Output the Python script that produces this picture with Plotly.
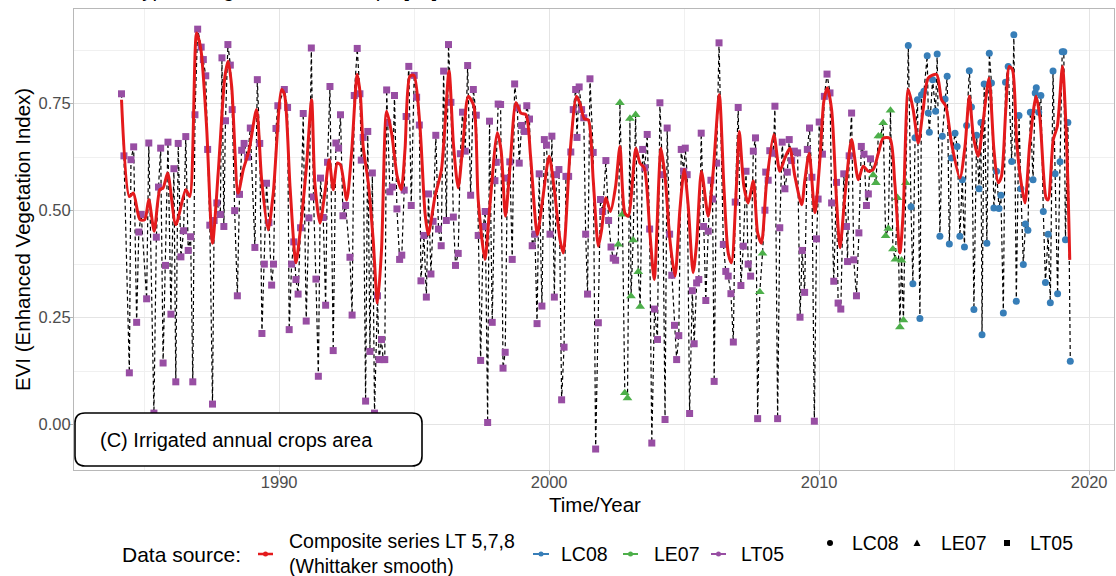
import plotly.graph_objects as go

# ---------------------------------------------------------------------------
# EVI observations per Landsat sensor (decimal year, EVI)
# ---------------------------------------------------------------------------
lt05_year = [
    1984.16, 1984.25, 1984.45, 1984.51, 1984.61, 1984.72, 1984.80, 1984.89, 1985.09, 1985.17,
    1985.36, 1985.45, 1985.53, 1985.61, 1985.70, 1985.79, 1985.88, 1985.99, 1986.10, 1986.17,
    1986.26, 1986.36, 1986.46, 1986.54, 1986.63, 1986.72, 1986.80, 1986.88, 1986.98, 1987.11,
    1987.19, 1987.28, 1987.35, 1987.43, 1987.53, 1987.59, 1987.69, 1987.82, 1987.88, 1987.95,
    1988.01, 1988.10, 1988.19, 1988.26, 1988.35, 1988.45, 1988.53, 1988.61, 1988.70, 1988.83,
    1988.93, 1989.10, 1989.19, 1989.28, 1989.36, 1989.45, 1989.53, 1989.62, 1989.72, 1989.79,
    1989.88, 1989.95, 1990.19, 1990.31, 1990.37, 1990.46, 1990.54, 1990.62, 1990.70, 1990.79,
    1990.89, 1991.00, 1991.10, 1991.19, 1991.27, 1991.36, 1991.45, 1991.53, 1991.63, 1991.72,
    1991.79, 1991.88, 1992.00, 1992.10, 1992.20, 1992.27, 1992.36, 1992.46, 1992.62, 1992.70,
    1992.78, 1992.89, 1992.99, 1993.04, 1993.11, 1993.20, 1993.28, 1993.36, 1993.45, 1993.53,
    1993.64, 1993.70, 1993.79, 1993.85, 1993.91, 1993.98, 1994.02, 1994.10, 1994.19, 1994.27,
    1994.36, 1994.46, 1994.54, 1994.63, 1994.70, 1994.80, 1994.89, 1995.00, 1995.09, 1995.19,
    1995.25, 1995.36, 1995.45, 1995.53, 1995.62, 1995.70, 1995.80, 1995.90, 1996.00, 1996.09,
    1996.19, 1996.27, 1996.36, 1996.45, 1996.53, 1996.63, 1996.71, 1996.79, 1996.89, 1996.98,
    1997.09, 1997.19, 1997.30, 1997.37, 1997.46, 1997.56, 1997.63, 1997.72, 1997.79, 1997.89,
    1997.99, 1998.04, 1998.11, 1998.20, 1998.29, 1998.37, 1998.45, 1998.54, 1998.63, 1998.72,
    1998.82, 1998.89, 1998.98, 1999.08, 1999.17, 1999.27, 1999.37, 1999.47, 1999.55, 1999.63,
    1999.73, 1999.82, 1999.90, 2000.03, 2000.10, 2000.19, 2000.27, 2000.36, 2000.46, 2000.55,
    2000.62, 2000.72, 2000.80, 2000.89, 2000.98, 2001.03, 2001.11, 2001.20, 2001.28, 2001.35,
    2001.42, 2001.51, 2001.63, 2001.72, 2001.82, 2001.90, 2001.98, 2002.10, 2002.20, 2002.29,
    2002.37, 2002.46, 2003.46, 2003.54, 2003.63, 2003.72, 2003.80, 2003.90, 2004.01, 2004.10,
    2004.20, 2004.29, 2004.37, 2004.46, 2004.54, 2004.64, 2004.72, 2004.80, 2004.89, 2004.98,
    2005.04, 2005.11, 2005.20, 2005.30, 2005.37, 2005.46, 2005.54, 2005.63, 2005.72, 2005.80,
    2005.89, 2005.99, 2006.05, 2006.11, 2006.20, 2006.29, 2006.45, 2006.54, 2006.63, 2006.73,
    2006.82, 2006.89, 2007.00, 2007.10, 2007.19, 2007.29, 2007.37, 2007.46, 2007.56, 2007.64,
    2007.72, 2007.99, 2008.02, 2008.11, 2008.17, 2008.30, 2008.36, 2008.46, 2008.54, 2008.63,
    2008.73, 2008.82, 2008.89, 2008.98, 2009.08, 2009.20, 2009.29, 2009.37, 2009.46, 2009.56,
    2009.64, 2009.73, 2009.82, 2009.90, 2009.96, 2010.00, 2010.12, 2010.19, 2010.29, 2010.40,
    2010.46, 2010.54, 2010.64, 2010.70, 2010.80, 2010.91, 2011.01, 2011.05, 2011.11, 2011.20,
    2011.28, 2011.38, 2011.47, 2011.56, 2011.66, 2011.75, 2011.82, 2011.90,
]
lt05_evi = [
    0.773, 0.628, 0.121, 0.619, 0.649, 0.239, 0.450, 0.491, 0.294, 0.658,
    0.027, 0.438, 0.555, 0.646, 0.144, 0.372, 0.660, 0.258, 0.598, 0.100,
    0.657, 0.392, 0.453, 0.673, 0.407, 0.439, 0.100, 0.724, 0.924, 0.882,
    0.853, 0.815, 0.643, 0.466, 0.048, 0.477, 0.518, 0.491, 0.857, 0.463,
    0.710, 0.888, 0.840, 0.736, 0.500, 0.301, 0.538, 0.641, 0.657, 0.625,
    0.693, 0.414, 0.806, 0.657, 0.213, 0.375, 0.564, 0.472, 0.326, 0.375,
    0.692, 0.745, 0.783, 0.741, 0.222, 0.375, 0.427, 0.339, 0.305, 0.460,
    0.727, 0.242, 0.483, 0.880, 0.532, 0.340, 0.113, 0.576, 0.484, 0.279,
    0.613, 0.790, 0.173, 0.658, 0.646, 0.724, 0.488, 0.512, 0.391, 0.256,
    0.769, 0.879, 0.773, 0.618, 0.671, 0.055, 0.685, 0.171, 0.588, 0.027,
    0.301, 0.152, 0.199, 0.152, 0.152, 0.782, 0.705, 0.544, 0.555, 0.769,
    0.504, 0.386, 0.396, 0.548, 0.720, 0.837, 0.512, 0.816, 0.765, 0.700,
    0.336, 0.442, 0.298, 0.539, 0.352, 0.475, 0.676, 0.457, 0.418, 0.826,
    0.477, 0.888, 0.753, 0.485, 0.372, 0.400, 0.633, 0.730, 0.639, 0.839,
    0.536, 0.783, 0.723, 0.442, 0.150, 0.463, 0.498, 0.005, 0.709, 0.239,
    0.570, 0.613, 0.749, 0.748, 0.132, 0.169, 0.576, 0.614, 0.386, 0.796,
    0.740, 0.611, 0.699, 0.685, 0.745, 0.714, 0.418, 0.445, 0.236, 0.586,
    0.277, 0.666, 0.653, 0.445, 0.674, 0.298, 0.584, 0.596, 0.058, 0.181,
    0.580, 0.580, 0.637, 0.736, 0.783, 0.671, 0.789, 0.736, 0.717, 0.445,
    0.305, 0.808, 0.636, -0.057, 0.238, 0.526, 0.498, 0.617, 0.477, 0.415,
    0.389, 0.384, 0.643, 0.600, 0.678, 0.457, -0.043, 0.270, 0.199, 0.752,
    0.584, 0.012, 0.693, 0.445, 0.349, 0.232, 0.152, 0.208, 0.643, 0.592,
    0.646, 0.584, 0.026, 0.313, 0.189, 0.331, 0.339, 0.681, 0.463, 0.290,
    0.452, 0.571, 0.527, 0.101, 0.611, 0.892, 0.421, 0.358, 0.347, 0.306,
    0.193, 0.520, 0.741, 0.325, 0.417, 0.592, 0.375, 0.347, 0.639, 0.670,
    0.014, 0.501, 0.590, 0.571, 0.640, 0.634, 0.744, 0.014, 0.460, 0.660,
    0.551, 0.590, 0.666, 0.617, 0.639, 0.635, 0.251, 0.407, 0.309, 0.643,
    0.693, 0.578, 0.008, 0.434, 0.527, 0.707, 0.632, 0.767, 0.819, 0.775,
    0.518, 0.335, 0.566, 0.284, 0.270, 0.586, 0.463, 0.381, 0.628, 0.728,
    0.385, 0.301, 0.448, 0.650, 0.632, 0.512, 0.539, 0.621,
]

le07_year = [
    2002.56, 2002.62, 2002.71, 2002.80, 2002.90, 2002.99, 2003.03, 2003.11, 2003.20, 2003.30,
    2003.37, 2007.80, 2007.90, 2012.00, 2012.10, 2012.19, 2012.28, 2012.37, 2012.46, 2012.56,
    2012.64, 2012.73, 2012.82, 2012.90, 2012.99, 2013.05, 2013.12, 2013.21,
]
le07_evi = [
    0.421, 0.752, 0.491, 0.074, 0.062, 0.715, 0.300, 0.431, 0.724, 0.357,
    0.276, 0.310, 0.400, 0.583, 0.565, 0.674, 0.674, 0.705, 0.441, 0.458,
    0.734, 0.410, 0.386, 0.530, 0.228, 0.384, 0.244, 0.565,
]

lc08_year = [
    2013.30, 2013.40, 2013.47, 2013.55, 2013.64, 2013.73, 2013.79, 2013.88, 2014.00, 2014.04,
    2014.08, 2014.20, 2014.31, 2014.37, 2014.47, 2014.56, 2014.66, 2014.74, 2014.82, 2014.90,
    2015.03, 2015.11, 2015.21, 2015.30, 2015.38, 2015.46, 2015.56, 2015.64, 2015.73, 2015.83,
    2015.92, 2015.99, 2016.03, 2016.11, 2016.21, 2016.30, 2016.38, 2016.47, 2016.57, 2016.66,
    2016.73, 2016.82, 2016.90, 2017.00, 2017.13, 2017.21, 2017.30, 2017.40, 2017.47, 2017.56,
    2017.64, 2017.73, 2017.82, 2017.92, 2018.00, 2018.04, 2018.13, 2018.21, 2018.30, 2018.38,
    2018.48, 2018.56, 2018.66, 2018.74, 2018.83, 2018.92, 2019.00, 2019.06, 2019.12, 2019.21,
    2019.30,
]
lc08_evi = [
    0.886, 0.509, 0.329, 0.670, 0.759, 0.248, 0.771, 0.779, 0.862, 0.728,
    0.683, 0.806, 0.732, 0.866, 0.440, 0.674, 0.761, 0.814, 0.422, 0.623,
    0.681, 0.650, 0.440, 0.572, 0.415, 0.699, 0.827, 0.742, 0.269, 0.676,
    0.551, 0.706, 0.210, 0.796, 0.424, 0.868, 0.798, 0.506, 0.592, 0.505,
    0.536, 0.261, 0.800, 0.837, 0.615, 0.911, 0.288, 0.722, 0.551, 0.374,
    0.469, 0.454, 0.730, 0.572, 0.775, 0.787, 0.730, 0.769, 0.498, 0.332,
    0.445, 0.285, 0.826, 0.586, 0.306, 0.614, 0.871, 0.871, 0.432, 0.706,
    0.148,
]

# Composite LT 5,7,8 series after Whittaker smoothing
smooth_year = [
    1984.16, 1984.45, 1984.60, 1984.84, 1985.02, 1985.17, 1985.37, 1985.58, 1985.70, 1985.87,
    1986.17, 1986.54, 1986.69, 1986.94, 1987.10, 1987.31, 1987.53, 1987.74, 1987.99, 1988.11,
    1988.24, 1988.48, 1988.67, 1988.88, 1989.16, 1989.35, 1989.59, 1989.78, 1990.09, 1990.20,
    1990.40, 1990.62, 1990.77, 1991.01, 1991.20, 1991.32, 1991.51, 1991.69, 1991.85, 1992.00,
    1992.15, 1992.27, 1992.50, 1992.68, 1992.89, 1993.01, 1993.11, 1993.30, 1993.48, 1993.64,
    1993.79, 1993.98, 1994.16, 1994.37, 1994.52, 1994.66, 1994.84, 1994.99, 1995.21, 1995.40,
    1995.52, 1995.77, 1996.01, 1996.29, 1996.45, 1996.63, 1996.82, 1997.00, 1997.21, 1997.37,
    1997.62, 1997.80, 1998.08, 1998.22, 1998.38, 1998.54, 1998.77, 1998.95, 1999.14, 1999.31,
    1999.56, 1999.74, 2000.00, 2000.19, 2000.40, 2000.52, 2000.77, 2001.01, 2001.14, 2001.30,
    2001.45, 2001.63, 2001.82, 2001.94, 2002.10, 2002.27, 2002.46, 2002.62, 2002.80, 2002.93,
    2003.21, 2003.36, 2003.52, 2003.73, 2003.89, 2004.14, 2004.29, 2004.47, 2004.66, 2004.84,
    2005.00, 2005.15, 2005.33, 2005.46, 2005.64, 2005.89, 2006.07, 2006.30, 2006.47, 2006.63,
    2006.75, 2006.94, 2007.04, 2007.21, 2007.37, 2007.56, 2007.72, 2007.86, 2008.05, 2008.32,
    2008.54, 2008.73, 2008.91, 2009.10, 2009.35, 2009.47, 2009.63, 2009.84, 2010.03, 2010.17,
    2010.30, 2010.46, 2010.64, 2010.77, 2010.95, 2011.20, 2011.45, 2011.63, 2011.82, 2012.00,
    2012.19, 2012.37, 2012.62, 2012.80, 2012.99, 2013.11, 2013.30, 2013.48, 2013.67, 2013.85,
    2014.04, 2014.35, 2014.53, 2014.69, 2014.90, 2015.21, 2015.40, 2015.56, 2015.71, 2015.89,
    2016.08, 2016.29, 2016.47, 2016.63, 2016.75, 2016.91, 2017.04, 2017.16, 2017.31, 2017.43,
    2017.62, 2017.80, 2018.03, 2018.17, 2018.40, 2018.48, 2018.67, 2018.82, 2019.01, 2019.16,
    2019.28,
]
smooth_evi = [
    0.759, 0.533, 0.541, 0.479, 0.479, 0.526, 0.452, 0.549, 0.553, 0.588,
    0.467, 0.549, 0.533, 0.915, 0.876, 0.697, 0.424, 0.588, 0.814, 0.849,
    0.790, 0.541, 0.596, 0.640, 0.736, 0.572, 0.455, 0.541, 0.783, 0.770,
    0.557, 0.378, 0.448, 0.604, 0.759, 0.565, 0.471, 0.541, 0.619, 0.549,
    0.611, 0.607, 0.525, 0.634, 0.818, 0.767, 0.650, 0.565, 0.432, 0.284,
    0.409, 0.732, 0.682, 0.580, 0.549, 0.643, 0.814, 0.816, 0.700, 0.495,
    0.444, 0.533, 0.596, 0.826, 0.658, 0.553, 0.666, 0.767, 0.744, 0.526,
    0.386, 0.510, 0.682, 0.640, 0.487, 0.596, 0.752, 0.728, 0.724, 0.627,
    0.444, 0.518, 0.627, 0.549, 0.432, 0.401, 0.634, 0.767, 0.750, 0.715,
    0.712, 0.572, 0.417, 0.455, 0.530, 0.498, 0.557, 0.650, 0.495, 0.487,
    0.646, 0.611, 0.600, 0.448, 0.339, 0.646, 0.580, 0.432, 0.347, 0.502,
    0.596, 0.510, 0.355, 0.425, 0.592, 0.487, 0.588, 0.771, 0.557, 0.401,
    0.378, 0.565, 0.685, 0.557, 0.518, 0.569, 0.448, 0.424, 0.565, 0.678,
    0.592, 0.623, 0.646, 0.580, 0.514, 0.572, 0.634, 0.495, 0.623, 0.755,
    0.787, 0.736, 0.526, 0.413, 0.533, 0.666, 0.572, 0.604, 0.592, 0.596,
    0.634, 0.669, 0.669, 0.565, 0.401, 0.495, 0.783, 0.736, 0.658, 0.736,
    0.810, 0.818, 0.759, 0.744, 0.658, 0.576, 0.650, 0.767, 0.674, 0.627,
    0.713, 0.810, 0.643, 0.565, 0.580, 0.736, 0.837, 0.829, 0.666, 0.588,
    0.518, 0.658, 0.767, 0.720, 0.530, 0.525, 0.666, 0.697, 0.837, 0.666,
    0.385,
]

y_tick_vals = [0.0, 0.25, 0.5, 0.75]
y_tick_text = ["0.00", "0.25", "0.50", "0.75"]
x_tick_vals = [1990, 2000, 2010, 2020]
x_tick_text = ["1990", "2000", "2010", "2020"]

COL_SMOOTH = "#E41A1C"
COL_LC08 = "#377EB8"
COL_LE07 = "#4DAF4A"
COL_LT05 = "#984EA3"
FONT = "Liberation Sans, Arial, sans-serif"

# ---------------------------------------------------------------------------
# Page geometry
# ---------------------------------------------------------------------------
W, H = 1116, 576
ML, MR, MT, MB = 74, 2, 9, 106
PW, PH = W - ML - MR, H - MT - MB
X0 = 1982.40
PX_PER_YEAR = 27.0
Y0 = -0.106
PX_PER_UNIT = 428.0
x_range = [X0, X0 + PW / PX_PER_YEAR]
y_range = [Y0, Y0 + PH / PX_PER_UNIT]


def fx(px):
    """Page pixel column -> paper fraction."""
    return (px - ML) / PW


def fy(py):
    """Page pixel row -> paper fraction."""
    return (H - MB - py) / PH


fig = go.Figure()

# every observation joined in time order by a dashed line
obs = sorted(zip(lt05_year + le07_year + lc08_year, lt05_evi + le07_evi + lc08_evi))
fig.add_trace(go.Scatter(
    x=[o[0] for o in obs], y=[o[1] for o in obs], mode="lines",
    line=dict(color="black", width=1.2, dash="4px,3px"), hoverinfo="skip",
))

for yrs, vals, col, sym, size in [
    (lt05_year, lt05_evi, COL_LT05, "square", 7),
    (le07_year, le07_evi, COL_LE07, "triangle-up", 8.5),
    (lc08_year, lc08_evi, COL_LC08, "circle", 7),
]:
    fig.add_trace(go.Scatter(
        x=yrs, y=vals, mode="markers",
        marker=dict(color=col, symbol=sym, size=size, line=dict(width=0)),
    ))

fig.add_trace(go.Scatter(
    x=smooth_year, y=smooth_evi, mode="lines",
    line=dict(color=COL_SMOOTH, width=3, shape="spline", smoothing=0.7),
))

shapes = []
annotations = []


def text(s, px, py, size, xanchor="left", color="black", **kw):
    annotations.append(dict(
        text=s, x=fx(px), y=fy(py), xref="paper", yref="paper",
        xanchor=xanchor, yanchor=kw.pop("yanchor", "middle"), showarrow=False,
        font=dict(family=FONT, size=size, color=color), **kw,
    ))


# panel label box with rounded corners
bx0, by0, bx1, by1, r = 75, 413, 422, 466, 10
rx, ry = r / PW, r / PH
L, R, T, B = fx(bx0), fx(bx1), fy(by0), fy(by1)
box_path = (
    f"M {L + rx},{T} L {R - rx},{T} Q {R},{T} {R},{T - ry} "
    f"L {R},{B + ry} Q {R},{B} {R - rx},{B} "
    f"L {L + rx},{B} Q {L},{B} {L},{B + ry} "
    f"L {L},{T - ry} Q {L},{T} {L + rx},{T} Z"
)
shapes.append(dict(type="path", path=box_path, xref="paper", yref="paper",
                   fillcolor="white", line=dict(color="black", width=1.6), layer="above"))
text("(C) Irrigated annual crops area", 98, 440, 20)

# axis titles
text("EVI (Enhanced Vegetation Index)", 22, 240, 20.5, xanchor="center", textangle=-90)
text("Time/Year", 595, 504, 20.5, xanchor="center")

# heading above the panel; only its lowest strokes fall inside the page
text("EVI of typical irrigated annual crops [ha]", 74, 2, 20.5, yanchor="bottom", borderpad=0)

# colour legend
text("Data source:", 120, 554, 21)
for x0, x1, col in [(258, 273, COL_SMOOTH), (533, 549, COL_LC08),
                    (623, 638, COL_LE07), (711, 726, COL_LT05)]:
    shapes.append(dict(type="line", xref="paper", yref="paper",
                       x0=fx(x0), x1=fx(x1), y0=fy(554), y1=fy(554),
                       line=dict(color=col, width=2.5 if col == COL_SMOOTH else 2)))
    cx = (x0 + x1) / 2
    shapes.append(dict(type="circle", xref="paper", yref="paper",
                       x0=fx(cx - 2.5), x1=fx(cx + 2.5), y0=fy(556.5), y1=fy(551.5),
                       fillcolor=col, line=dict(width=0)))
text("Composite series LT 5,7,8<br>(Whittaker smooth)", 287, 553, 19.5, align="left")
text("LC08", 559, 554, 19.5)
text("LE07", 652, 554, 19.5)
text("LT05", 739, 554, 19.5)

# shape legend
shapes.append(dict(type="circle", xref="paper", yref="paper",
                   x0=fx(827), x1=fx(833), y0=fy(546), y1=fy(540),
                   fillcolor="black", line=dict(width=0)))
shapes.append(dict(type="path", xref="paper", yref="paper",
                   path=f"M {fx(913.5)},{fy(546)} L {fx(920.5)},{fy(546)} L {fx(917)},{fy(539.5)} Z",
                   fillcolor="black", line=dict(width=0)))
shapes.append(dict(type="rect", xref="paper", yref="paper",
                   x0=fx(1004), x1=fx(1010), y0=fy(546), y1=fy(540),
                   fillcolor="black", line=dict(width=0)))
text("LC08", 850, 543, 19.5)
text("LE07", 939, 543, 19.5)
text("LT05", 1028, 543, 19.5)

axis_common = dict(
    showline=True, linecolor="#B8B8B8", linewidth=1.2, mirror=True,
    ticks="outside", ticklen=4, tickcolor="#B3B3B3", tickwidth=1,
    showgrid=True, gridcolor="#E4E4E4", gridwidth=1.2, zeroline=False,
    tickfont=dict(family=FONT, size=16.5, color="#4D4D4D"),
)

fig.update_layout(
    width=W, height=H,
    margin=dict(l=ML, r=MR, t=MT, b=MB, pad=0),
    paper_bgcolor="white", plot_bgcolor="white",
    showlegend=False,
    xaxis=dict(range=x_range, tickvals=x_tick_vals, ticktext=x_tick_text,
               ticklabelstandoff=-7,
               minor=dict(tickvals=[1985, 1995, 2005, 2015], showgrid=True,
                          gridcolor="#F0F0F0", gridwidth=1, ticks=""),
               **axis_common),
    yaxis=dict(range=y_range, tickvals=y_tick_vals, ticktext=y_tick_text,
               ticklabelstandoff=-5,
               minor=dict(tickvals=[0.125, 0.375, 0.625, 0.875], showgrid=True,
                          gridcolor="#F0F0F0", gridwidth=1, ticks=""),
               **axis_common),
    shapes=shapes,
    annotations=annotations,
)

fig.write_html("out.html")
